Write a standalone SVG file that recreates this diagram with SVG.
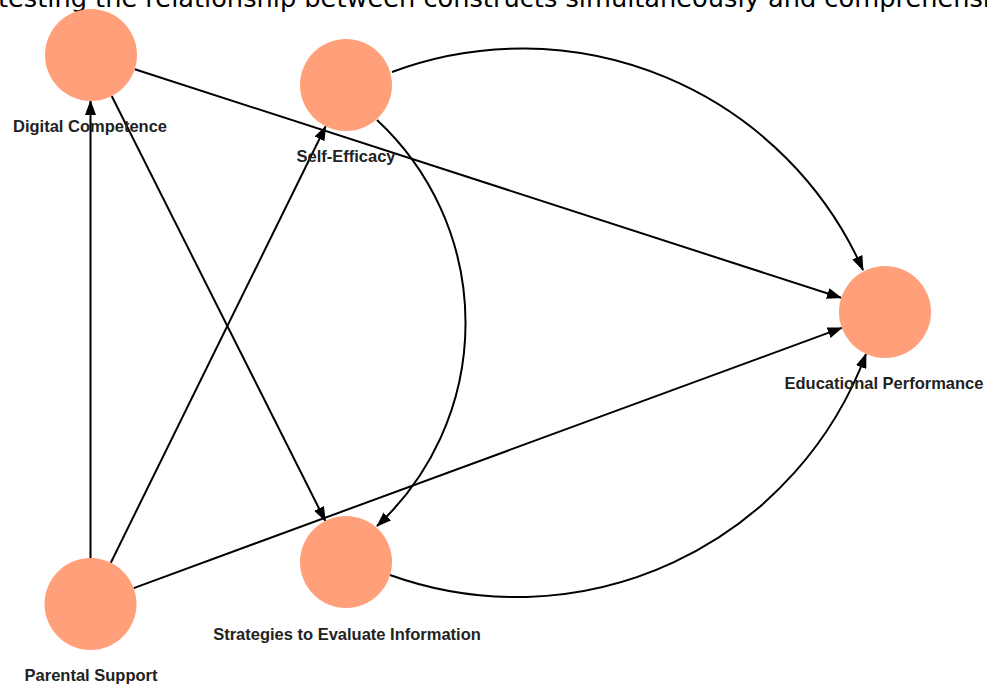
<svg xmlns="http://www.w3.org/2000/svg" width="987" height="685" viewBox="0 0 987 685">
<defs>
<style>
.node{fill:#FFA07A;}
.lbl{font-family:"Liberation Sans",Arial,sans-serif;font-weight:bold;font-size:16.5px;fill:#222;text-anchor:middle;}
.edge{fill:none;stroke:#000;stroke-width:2;marker-end:url(#arr);}
.title{font-family:"DejaVu Sans",Verdana,sans-serif;font-size:25.5px;fill:#000;}
</style>
<marker id="arr" markerUnits="userSpaceOnUse" markerWidth="15" markerHeight="11" refX="14" refY="5.5" orient="auto" viewBox="0 0 15 11">
<path d="M0,0 L15,5.5 L0,11 z" fill="#000"/>
</marker>
</defs>
<rect width="987" height="685" fill="#fff"/>
<text class="title" x="-2" y="7" textLength="992" lengthAdjust="spacingAndGlyphs">testing the relationship between constructs simultaneously and comprehensi</text>
<g id="connectors">
<line class="edge" x1="134.8" y1="69.2" x2="841" y2="297.8"/>
<line class="edge" x1="111.7" y1="96" x2="325.3" y2="520.9"/>
<line class="edge" x1="90.5" y1="558" x2="90.5" y2="101"/>
<line class="edge" x1="110.8" y1="562.7" x2="325.7" y2="126.3"/>
<line class="edge" x1="133.7" y1="588.1" x2="841.8" y2="327.9"/>
<path class="edge" d="M392,72 A373,373 0 0,1 863,270"/>
<path class="edge" d="M377,120 A277,277 0 0,1 377,526"/>
<path class="edge" d="M390,575 A373,373 0 0,0 866,354"/>
</g>
<g id="digital-competence">
<circle class="node" cx="91" cy="55" r="46"/>
<text class="lbl" x="90" y="132">Digital Competence</text>
</g>
<g id="self-efficacy">
<circle class="node" cx="346" cy="85" r="46"/>
<text class="lbl" x="346" y="162">Self-Efficacy</text>
</g>
<g id="educational-performance">
<circle class="node" cx="885" cy="312" r="46"/>
<text class="lbl" x="884" y="389">Educational Performance</text>
</g>
<g id="strategies">
<circle class="node" cx="346" cy="562" r="46"/>
<text class="lbl" x="347" y="640">Strategies to Evaluate Information</text>
</g>
<g id="parental-support">
<circle class="node" cx="90.5" cy="604" r="46"/>
<text class="lbl" x="91" y="681">Parental Support</text>
</g>
</svg>
